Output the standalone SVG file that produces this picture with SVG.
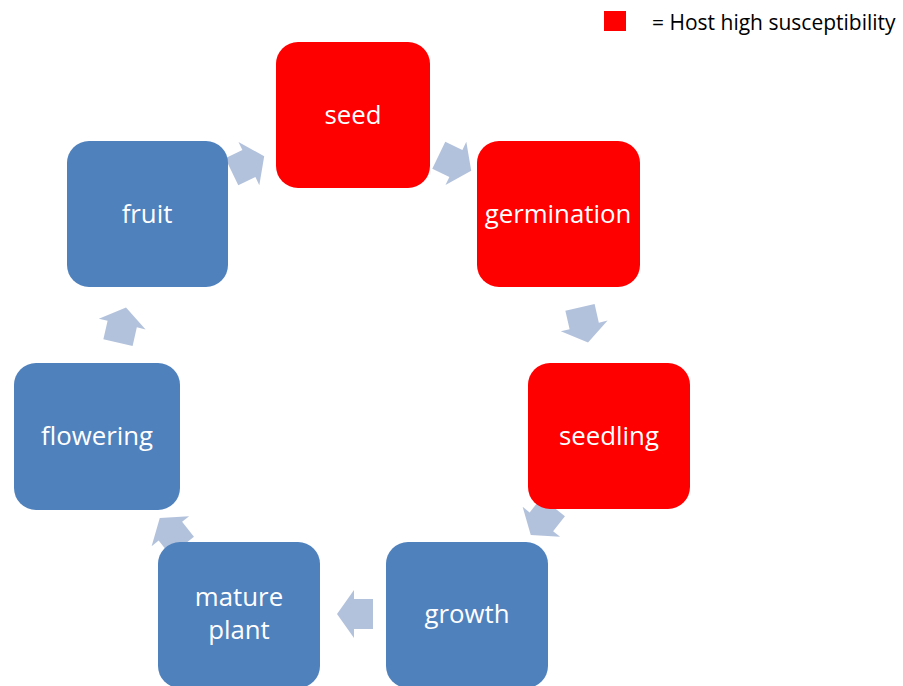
<svg xmlns="http://www.w3.org/2000/svg" xmlns:xlink="http://www.w3.org/1999/xlink" width="903" height="686" viewBox="0 0 903 686">
<style>
.node-red{fill:#FF0000}
.node-blue{fill:#4F81BD}
.lbl{fill:#FFFFFF;font-family:"Open Sans","Noto Sans",sans-serif;font-size:25.8px;text-anchor:middle}
.arr{fill:#B3C2DC}
.legend{fill:#000000;font-family:"Open Sans","Noto Sans",sans-serif;font-size:21px}
</style>
<defs>
<polygon id="arrow" class="arr" points="-18,-15 1,-15 1,-24 18,0 1,24 1,15 -18,15"/>
</defs>
<rect width="903" height="686" fill="#FFFFFF"/>
<g id="connectors">
<use xlink:href="#arrow" href="#arrow" transform="translate(248,164) rotate(-25.7)"/>
<use xlink:href="#arrow" href="#arrow" transform="translate(455,163) rotate(25.7)"/>
<use xlink:href="#arrow" href="#arrow" transform="translate(584,325) rotate(77.1)"/>
<use xlink:href="#arrow" href="#arrow" transform="translate(542,521) rotate(128.6)"/>
<use xlink:href="#arrow" href="#arrow" transform="translate(355,614) rotate(180)"/>
<use xlink:href="#arrow" href="#arrow" transform="translate(171,532) rotate(231.4)"/>
<use xlink:href="#arrow" href="#arrow" transform="translate(122,325) rotate(282.9)"/>
</g>
<g id="seed">
<rect class="node-red" x="276" y="42" width="154" height="146" rx="22"/>
<text class="lbl" x="353" y="124">seed</text>
</g>
<g id="germination">
<rect class="node-red" x="477" y="141" width="163" height="146" rx="22"/>
<text class="lbl" x="558" y="223">germination</text>
</g>
<g id="seedling">
<rect class="node-red" x="528" y="363" width="162" height="146" rx="22"/>
<text class="lbl" x="609" y="445">seedling</text>
</g>
<g id="growth">
<rect class="node-blue" x="386" y="542" width="162" height="146" rx="22"/>
<text class="lbl" x="467" y="623">growth</text>
</g>
<g id="mature-plant">
<rect class="node-blue" x="158" y="542" width="162" height="146" rx="22"/>
<text class="lbl" x="239" y="606">mature</text>
<text class="lbl" x="239" y="639">plant</text>
</g>
<g id="flowering">
<rect class="node-blue" x="14" y="363" width="166" height="147" rx="22"/>
<text class="lbl" x="97" y="445">flowering</text>
</g>
<g id="fruit">
<rect class="node-blue" x="67" y="141" width="161" height="146" rx="22"/>
<text class="lbl" x="147" y="223">fruit</text>
</g>
<g id="legend">
<rect x="604" y="11" width="22" height="20" fill="#FF0000"/>
<text class="legend" x="652" y="30">= Host high susceptibility</text>
</g>
</svg>
